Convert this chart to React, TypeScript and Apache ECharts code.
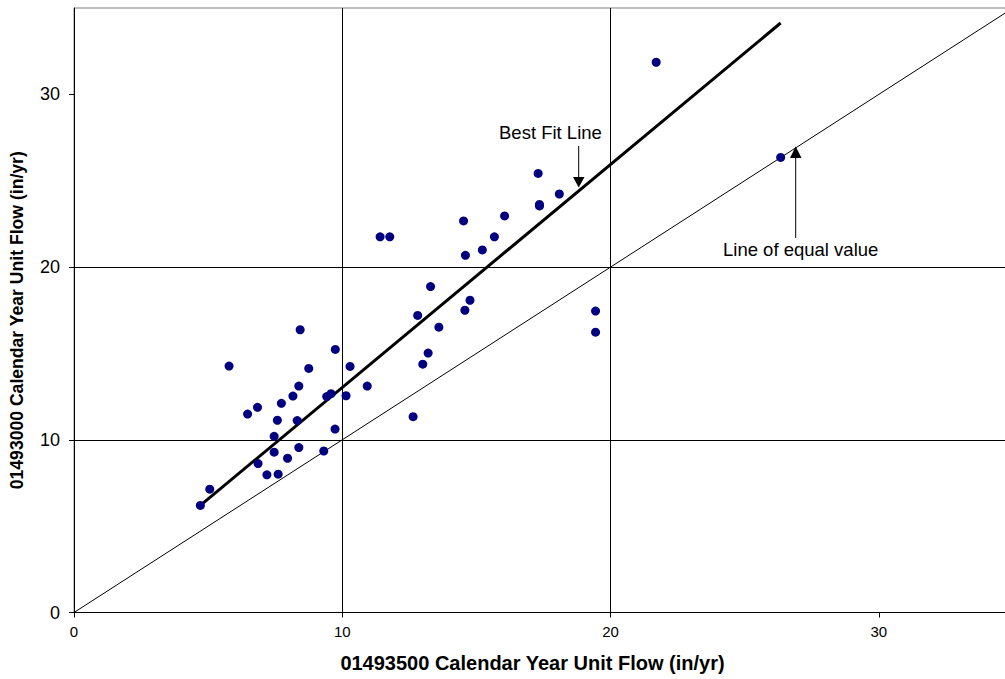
import React, { useEffect, useRef } from "react";
import * as echarts from "echarts";

// Observed values: 01493500 (x) vs 01493000 (y), calendar-year unit flow (in/yr)
const xValues = [
  4.71, 5.06, 5.78, 6.47, 6.84, 6.86, 7.19, 7.61, 7.46, 7.46,
  7.58, 7.73, 7.96, 8.16, 8.32, 8.38, 8.38, 8.43, 8.75, 9.31,
  9.42, 9.58, 9.73, 9.74, 10.14, 10.29, 10.93, 11.41, 11.77, 12.64,
  12.81, 13.0, 13.2, 13.29, 13.6, 14.52, 14.59, 14.57, 14.76, 15.22,
  15.67, 16.05, 17.3, 17.35, 17.35, 18.09, 19.44, 19.44, 21.7, 26.34,
];
const yValues = [
  6.2, 7.14, 14.27, 11.49, 11.88, 8.62, 7.97, 8.01, 10.2, 9.28,
  11.13, 12.11, 8.93, 12.53, 11.11, 9.55, 13.11, 16.37, 14.13, 9.35,
  12.5, 12.67, 10.62, 15.23, 12.55, 14.25, 13.11, 21.75, 21.75, 11.34,
  17.2, 14.38, 15.02, 18.87, 16.52, 22.67, 20.68, 17.5, 18.08, 20.99,
  21.75, 22.96, 25.42, 23.63, 23.54, 24.23, 17.45, 16.23, 31.86, 26.35,
];

// Best fit line endpoints and line of equal value
const bestFitX = [4.71, 26.34];
const bestFitY = [6.2, 34.13];
const equalX = [0, 35];
const equalY = [0, 35];

const tickValues = [0, 10, 20, 30];
const axisMax = 35;

const xTitle = "01493500 Calendar Year Unit Flow (in/yr)";
const yTitle = "01493000 Calendar Year Unit Flow (in/yr)";
const bestFitLabel = "Best Fit Line";
const equalLabel = "Line of equal value";

const FONT = "'Liberation Sans', Arial, Helvetica, sans-serif";

export default function App() {
  const ref = useRef<HTMLDivElement>(null);

  useEffect(() => {
    if (!ref.current) return;
    const chart = echarts.init(ref.current, undefined, { renderer: "svg" });

    const points = xValues.map((x, i) => [x, yValues[i]]);
    const fit = bestFitX.map((x, i) => [x, bestFitY[i]]);
    const eq = equalX.map((x, i) => [x, equalY[i]]);

    const axisCommon = {
      type: "value" as const,
      min: 0,
      max: axisMax,
      interval: 10,
      axisLine: { show: true, onZero: false, lineStyle: { color: "#000", width: 1 } },
      axisTick: {
        show: true,
        inside: false,
        length: 5,
        customValues: tickValues,
        lineStyle: { color: "#000", width: 1 },
      },
      splitLine: {
        show: true,
        showMinLine: false,
        showMaxLine: false,
        lineStyle: { color: "#000", width: 1 },
      },
    };

    chart.setOption({
      animation: false,
      backgroundColor: "#fff",
      textStyle: { fontFamily: FONT },
      grid: {
        left: 71.5,
        top: 8,
        right: 2,
        bottom: 66.5,
        show: true,
        borderColor: "#808080",
        borderWidth: 1,
        backgroundColor: "#fff",
      },
      xAxis: {
        ...axisCommon,
        axisLabel: {
          customValues: tickValues,
          margin: 11,
          fontSize: 15,
          color: "#000",
          fontFamily: FONT,
        },
        name: xTitle,
        nameLocation: "middle",
        nameGap: 40,
        nameTextStyle: {
          fontSize: 20,
          fontWeight: "bold",
          color: "#000",
          fontFamily: FONT,
          padding: [0, 22, 0, 0],
        },
      },
      yAxis: {
        ...axisCommon,
        axisLabel: {
          customValues: tickValues,
          margin: 14,
          fontSize: 18,
          color: "#000",
          fontFamily: FONT,
        },
        name: yTitle,
        nameLocation: "middle",
        nameGap: 48,
        nameTextStyle: {
          fontSize: 17.6,
          fontWeight: "bold",
          color: "#000",
          fontFamily: FONT,
          padding: [0, 20, 0, 0],
        },
      },
      series: [
        {
          type: "line",
          data: eq,
          showSymbol: false,
          symbol: "none",
          lineStyle: { color: "#000", width: 1 },
          silent: true,
          z: 2,
        },
        {
          type: "line",
          data: fit,
          showSymbol: false,
          symbol: "none",
          lineStyle: { color: "#000", width: 3 },
          silent: true,
          z: 3,
        },
        {
          type: "scatter",
          data: points,
          symbol: "circle",
          symbolSize: 9,
          itemStyle: { color: "#000080", opacity: 1 },
          z: 4,
        },
      ],
      graphic: [
        {
          type: "text",
          left: 499,
          top: 123,
          style: { text: bestFitLabel, fontSize: 18.5, fill: "#000", fontFamily: FONT },
          z: 10,
        },
        {
          type: "line",
          shape: { x1: 578.7, y1: 146, x2: 578.7, y2: 178 },
          style: { stroke: "#000", lineWidth: 1 },
          z: 10,
        },
        {
          type: "polygon",
          shape: { points: [[573, 177], [584.5, 177], [578.7, 187.5]] },
          style: { fill: "#000" },
          z: 10,
        },
        {
          type: "text",
          left: 723,
          top: 240,
          style: { text: equalLabel, fontSize: 18.5, fill: "#000", fontFamily: FONT },
          z: 10,
        },
        {
          type: "line",
          shape: { x1: 795.7, y1: 238, x2: 795.7, y2: 157 },
          style: { stroke: "#000", lineWidth: 1 },
          z: 10,
        },
        {
          type: "polygon",
          shape: { points: [[790, 158], [801.5, 158], [795.7, 146.5]] },
          style: { fill: "#000" },
          z: 10,
        },
      ],
    });

    return () => chart.dispose();
  }, []);

  return (
    <div
      style={{
        position: "absolute",
        left: 0,
        top: 0,
        width: 1005,
        height: 679,
        overflow: "hidden",
        background: "#fff",
      }}
    >
      <div ref={ref} style={{ width: 1015, height: 679 }} />
    </div>
  );
}
